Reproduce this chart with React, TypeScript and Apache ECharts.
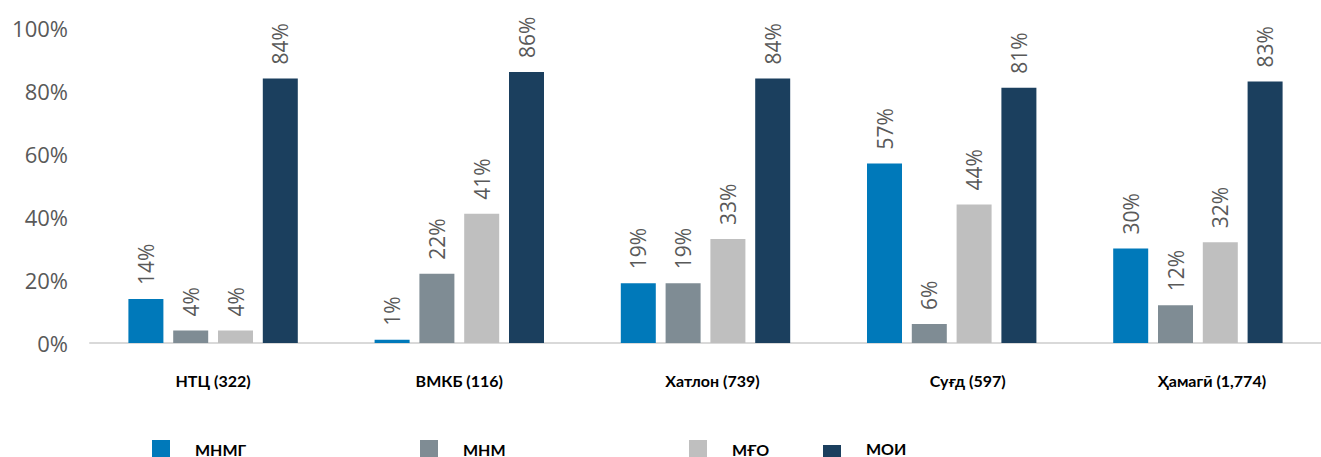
import React, { useEffect, useRef } from "react";
import * as echarts from "echarts";

const categories = ["НТЦ (322)", "ВМКБ (116)", "Хатлон (739)", "Суғд (597)", "Ҳамагӣ (1,774)"];
const seriesNames = ["МНМГ", "МНМ", "МҒО", "МОИ"];
const mnmg = [14, 1, 19, 57, 30];
const mnm = [4, 22, 19, 6, 12];
const mgo = [4, 41, 33, 44, 32];
const moi = [84, 86, 84, 81, 83];
const colors = ["#0079BA", "#7F8C94", "#BFBFBF", "#1B3F5E"];
const yTicks = [0, 20, 40, 60, 80, 100];

export default function App() {
  const ref = useRef<HTMLDivElement>(null);
  useEffect(() => {
    if (!ref.current) return;
    const chart = echarts.init(ref.current, null, { renderer: "svg" });
    const data = [mnmg, mnm, mgo, moi];
    const legendLefts = [152, 420, 689, 823];
    const labelShift = [0, 0, 7, 16, 14];
    chart.setOption({
      animation: false,
      grid: { left: 90, top: 28, width: 1240, height: 315, containLabel: false },
      legend: seriesNames.map((n, i) => ({
        data: [n],
        left: legendLefts[i],
        top: 440,
        itemWidth: 18,
        itemHeight: 18,
        padding: 0,
        icon: "rect",
        selectedMode: false,
        formatter: (name: string) => (i === 3 ? "{up|" + name + "}" : "{n|" + name + "}"),
        textStyle: {
          fontFamily: "Lato",
          fontWeight: "bold",
          fontSize: 16,
          color: "#000",
          rich: {
            n: { fontFamily: "Lato", fontWeight: "bold", fontSize: 16, color: "#000", padding: [0, 0, 0, 20] },
            up: { fontFamily: "Lato", fontWeight: "bold", fontSize: 16, color: "#000", padding: [0, 0, 12, 20] },
          },
        },
      })),
      xAxis: {
        type: "category",
        data: categories,
        axisLine: { lineStyle: { color: "#D9D9D9", width: 2 } },
        axisTick: { show: false },
        axisLabel: {
          margin: 29,
          fontFamily: "Lato",
          fontWeight: "bold",
          fontSize: 16,
          color: "#000",
          formatter: (v: string, idx: number) => "{c" + idx + "|" + v + "}",
          rich: Object.fromEntries(
            labelShift.map((s, k) => [
              "c" + k,
              { fontFamily: "Lato", fontWeight: "bold", fontSize: 16, color: "#000", padding: [0, 0, 0, s * 2] },
            ])
          ),
        },
      },
      yAxis: {
        type: "value",
        min: yTicks[0],
        max: yTicks[yTicks.length - 1],
        interval: 20,
        axisLine: { show: false },
        axisTick: { show: false },
        splitLine: { show: false },
        axisLabel: {
          margin: 22,
          formatter: "{value}%",
          fontFamily: "Open Sans",
          fontSize: 22,
          color: "#595959",
        },
      },
      series: seriesNames.map((n, i) => ({
        name: n,
        type: "bar",
        data: data[i],
        barWidth: 35,
        barGap: "28%",
        itemStyle: { color: colors[i] },
        label: {
          show: true,
          position: "top",
          rotate: 90,
          align: "left",
          verticalAlign: "middle",
          distance: 14,
          formatter: "{c}%",
          fontFamily: "Open Sans",
          fontSize: 21,
          color: "#595959",
        },
      })),
    });
    return () => chart.dispose();
  }, []);
  return (
    <div
      ref={ref}
      style={{ position: "absolute", left: 0, top: 0, width: 1321, height: 457 }}
    />
  );
}
